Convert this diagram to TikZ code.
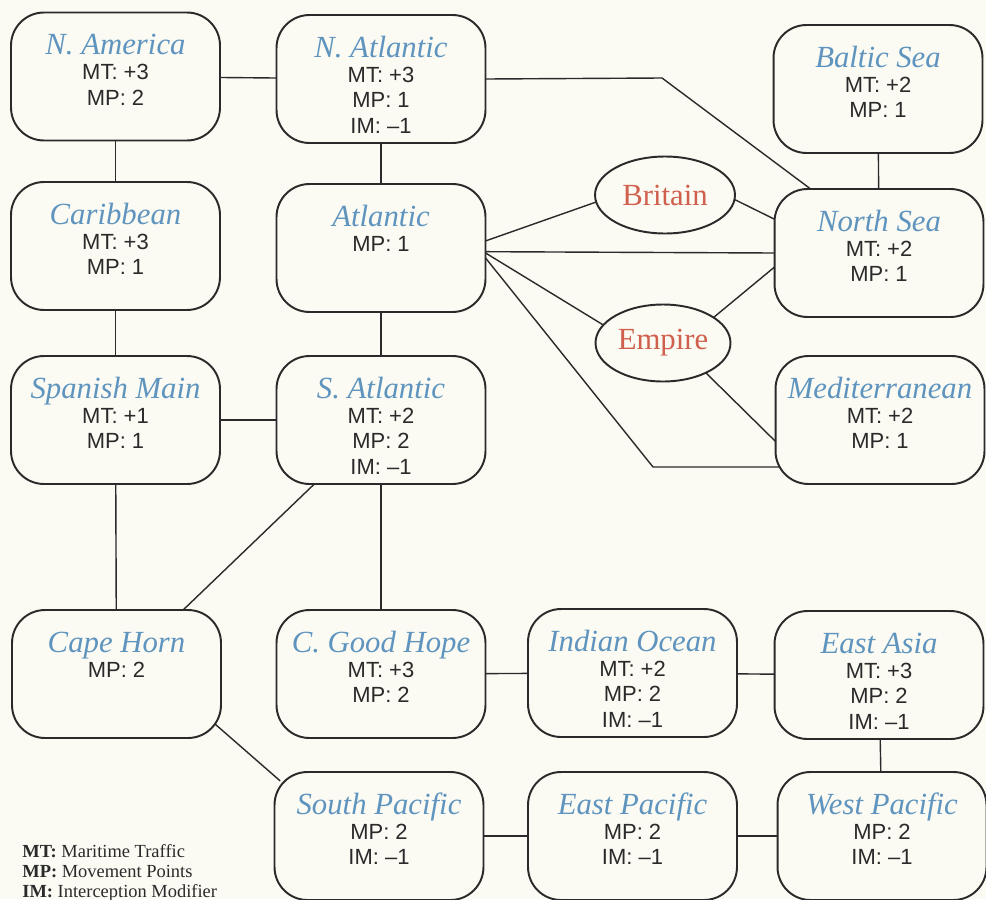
\documentclass[tikz,border=0pt]{standalone}
\usepackage{fontspec}
\setmainfont{Liberation Serif}
\setsansfont{Liberation Sans}
\usepackage{xcolor}
\definecolor{mapInk}{HTML}{2A2A2A}
\definecolor{mapPaper}{HTML}{FBFAF3}
\definecolor{mapTitle}{HTML}{5E94BE}
\definecolor{mapPower}{HTML}{D0604E}
\usepackage{tikz}
\usetikzlibrary{shapes.geometric,backgrounds,calc}
\tikzset{
    seabox/.style={
        draw=mapInk,
        fill=mapPaper,
        rectangle,
        rounded corners=0.66cm,
        line width=1.1pt,
        inner sep=0pt,
        font=\sffamily\fontsize{12.5}{14.5}\selectfont,
        text=mapInk,
        execute at begin node={\begin{minipage}[t][2.56cm][t]{4.18cm}\centering\rule{0pt}{0.84cm}},
        execute at end node={\end{minipage}}
    },
    power/.style={
        draw=mapInk,
        fill=mapPaper,
        ellipse,
        line width=1.1pt,
        minimum width=2.8cm,
        minimum height=1.54cm,
        inner sep=0pt,
        font=\rmfamily\fontsize{17.5}{20}\selectfont,
        text=mapPower
    },
    link/.style={
        draw=mapInk,
        line width=0.8pt,
        shorten <=-5pt,
        shorten >=-5pt
    },
    legend/.style={
        align=left,
        inner sep=0pt,
        font=\rmfamily\fontsize{10.5}{11.4}\selectfont,
        text=mapInk
    }
}
\newcommand{\seaname}[1]{{\rmfamily\itshape\fontsize{17.5}{20}\selectfont\color{mapTitle}#1}}

\begin{document}
\begin{tikzpicture}[x=0.02cm, y=-0.02cm]
    \useasboundingbox (0,0) rectangle (986,899);
    \node[seabox] (namerica) at (115.5,76.5) {\seaname{N. America}\\MT: +3\\MP: 2};
    \node[seabox] (natlantic) at (381,79) {\seaname{N. Atlantic}\\MT: +3\\MP: 1\\IM: –1};
    \node[seabox] (caribbean) at (115.5,246) {\seaname{Caribbean}\\MT: +3\\MP: 1};
    \node[seabox] (atlantic) at (381,248) {\seaname{Atlantic}\\MP: 1};
    \node[seabox] (spanish) at (115.5,420) {\seaname{Spanish Main}\\MT: +1\\MP: 1};
    \node[seabox] (satlantic) at (381,420) {\seaname{S. Atlantic}\\MT: +2\\MP: 2\\IM: –1};
    \node[seabox] (baltic) at (878,89) {\seaname{Baltic Sea}\\MT: +2\\MP: 1};
    \node[seabox] (northsea) at (879,253) {\seaname{North Sea}\\MT: +2\\MP: 1};
    \node[seabox] (med) at (880,420) {\seaname{Mediterranean}\\MT: +2\\MP: 1};
    \node[power] (britain) at (665,195) {Britain};
    \node[power, minimum width=2.7cm] (empire) at (663,343) {Empire};
    \node[seabox] (capehorn) at (116.5,674) {\seaname{Cape Horn}\\MP: 2};
    \node[seabox] (goodhope) at (381,674) {\seaname{C. Good Hope}\\MT: +3\\MP: 2};
    \node[seabox] (indian) at (632.5,673) {\seaname{Indian Ocean}\\MT: +2\\MP: 2\\IM: –1};
    \node[seabox] (eastasia) at (879,675) {\seaname{East Asia}\\MT: +3\\MP: 2\\IM: –1};
    \node[seabox] (southpac) at (379,836) {\seaname{South Pacific}\\MP: 2\\IM: –1};
    \node[seabox] (eastpac) at (632.5,836) {\seaname{East Pacific}\\MP: 2\\IM: –1};
    \node[seabox] (westpac) at (882,836) {\seaname{West Pacific}\\MP: 2\\IM: –1};
    \node[legend, anchor=north west] (key) at (22,844) {\textbf{MT:} Maritime Traffic\\\textbf{MP:} Movement Points\\\textbf{IM:} Interception Modifier};
    \coordinate (nsbend) at (662,78);
    \coordinate (medbend) at (653,467);

    \begin{scope}[on background layer]
        \fill[mapPaper] (0,0) rectangle (986,899);
        \draw[link] (namerica) -- (natlantic);
        \draw[link] (namerica) -- (caribbean);
        \draw[link] (caribbean) -- (spanish);
        \draw[link] (spanish) -- (capehorn);
        \draw[link] (natlantic) -- (atlantic);
        \draw[link] (atlantic) -- (satlantic);
        \draw[link] (satlantic) -- (goodhope);
        \draw[link] (spanish) -- (satlantic);
        \draw[link] (satlantic) -- (capehorn);
        \draw[link] (capehorn.-28) -- (southpac.150);
        \draw[link] (goodhope) -- (indian);
        \draw[link] (indian) -- (eastasia);
        \draw[link] (eastasia) -- (westpac);
        \draw[link] (southpac) -- (eastpac);
        \draw[link] (eastpac) -- (westpac);
        \draw[link] (baltic) -- (northsea);
        \draw[link] (natlantic.east) -- (nsbend) -- (northsea.137);
        \draw[link] (atlantic.4) -- (britain.186);
        \draw[link] (britain.-4) -- (northsea.162);
        \draw[link] (atlantic.-2) -- (northsea.west);
        \draw[link] (atlantic.-3) -- (empire.163);
        \draw[link] (empire.27) -- (northsea.188);
        \draw[link] (empire.-35) -- (med.191);
        \draw[link] (atlantic.-6) -- (medbend) -- (medbend -| med.center);
    \end{scope}
\end{tikzpicture}
\end{document}
